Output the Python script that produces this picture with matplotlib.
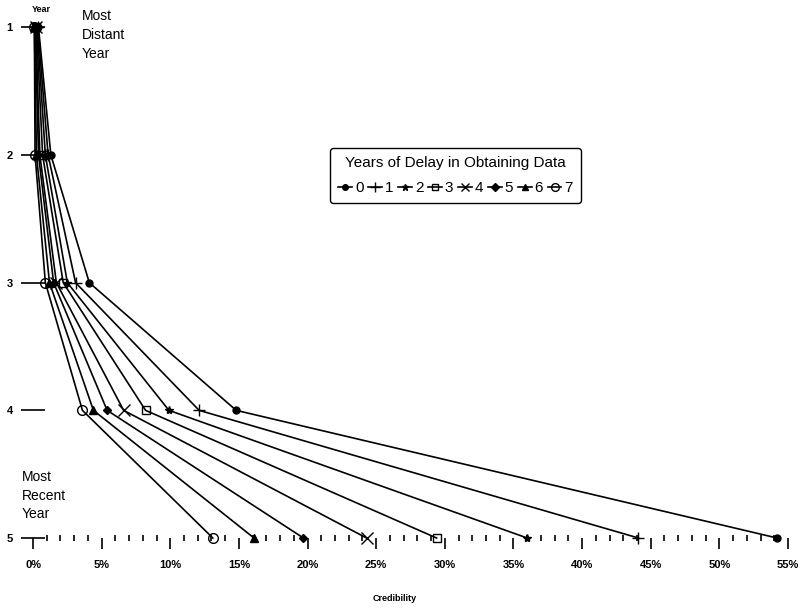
import numpy as np
import matplotlib.pyplot as plt

plt.rcParams['font.family'] = ['Liberation Sans', 'DejaVu Sans']

# ------------------------------------------------------------
# Data: credibility (%) per year, one list per delay
# ------------------------------------------------------------
years = [1, 2, 3, 4, 5]
delays = ["0", "1", "2", "3", "4", "5", "6", "7"]

cred_0 = [0.4, 1.3, 4.1, 14.8, 54.2]
cred_1 = [0.35, 1.1, 3.1, 12.1, 44.1]
cred_2 = [0.3, 0.9, 2.5, 9.9, 36.0]
cred_3 = [0.25, 0.7, 2.2, 8.2, 29.4]
cred_4 = [0.2, 0.5, 1.7, 6.6, 24.3]
cred_5 = [0.15, 0.4, 1.5, 5.4, 19.7]
cred_6 = [0.1, 0.25, 1.2, 4.4, 16.1]
cred_7 = [0.1, 0.15, 0.9, 3.6, 13.1]

series = [cred_0, cred_1, cred_2, cred_3, cred_4, cred_5, cred_6, cred_7]
markers = ["o", "+", "*", "s", "x", "D", "^", "o"]
fills = ["black", "none", "black", "none", "none", "black", "black", "none"]
sizes = [5, 9, 6, 6, 8, 4.5, 5.5, 7]

# ------------------------------------------------------------
# Plot
# ------------------------------------------------------------
fig = plt.figure(figsize=(8.05, 6.09), dpi=100)
ax = fig.add_axes([0.041, 0.0956, 0.955, 0.891])

for vals, lab, m, fc, ms in zip(series, delays, markers, fills, sizes):
    ax.plot(vals, years, color="black", lw=1.2, marker=m, ms=ms,
            mfc=fc, mec="black", mew=1.0, label=lab, clip_on=False)

ax.set_xlim(0, 56)
ax.set_ylim(5.1, 0.85)

for s in ax.spines.values():
    s.set_visible(False)
ax.spines["bottom"].set_position(("data", 5))

# x axis
ax.set_xticks(np.arange(0, 56, 5))
ax.set_xticklabels([f"{v}%" for v in range(0, 56, 5)], fontsize=8, fontweight="bold")
ax.set_xticks(np.arange(0, 56, 1), minor=True)
ax.tick_params(axis="x", which="major", direction="out", length=8, width=1.2, pad=8)
ax.tick_params(axis="x", which="minor", direction="inout", length=5, width=1.2)

# y axis
ax.set_yticks(years)
ax.set_yticklabels([str(y) for y in years], fontsize=8, fontweight="bold")
ax.tick_params(axis="y", direction="inout", length=17, width=1.2, pad=6)

# annotations
fig.text(0.051, 0.985, "Year", fontsize=6.5, fontweight="bold", ha="center", va="center")
fig.text(0.102, 0.985, "Most\nDistant\nYear", fontsize=10, ha="left", va="top",
         linespacing=1.45)
fig.text(0.027, 0.228, "Most\nRecent\nYear", fontsize=10, ha="left", va="top",
         linespacing=1.4)
fig.text(0.49, 0.018, "Credibility", fontsize=6.5, fontweight="bold", ha="center", va="center")

leg = ax.legend(title="Years of Delay in Obtaining Data", ncol=8, loc="upper left",
                bbox_to_anchor=(0.41, 0.757), bbox_transform=fig.transFigure,
                fontsize=11, title_fontsize=11, handlelength=0.9, handletextpad=0.2,
                columnspacing=0.3, borderpad=0.55, labelspacing=0.7, borderaxespad=0,
                markerscale=0.8, frameon=True, fancybox=True, edgecolor="black",
                framealpha=1)
leg.get_frame().set_linewidth(1.0)

fig.savefig("out.png", dpi=100)
